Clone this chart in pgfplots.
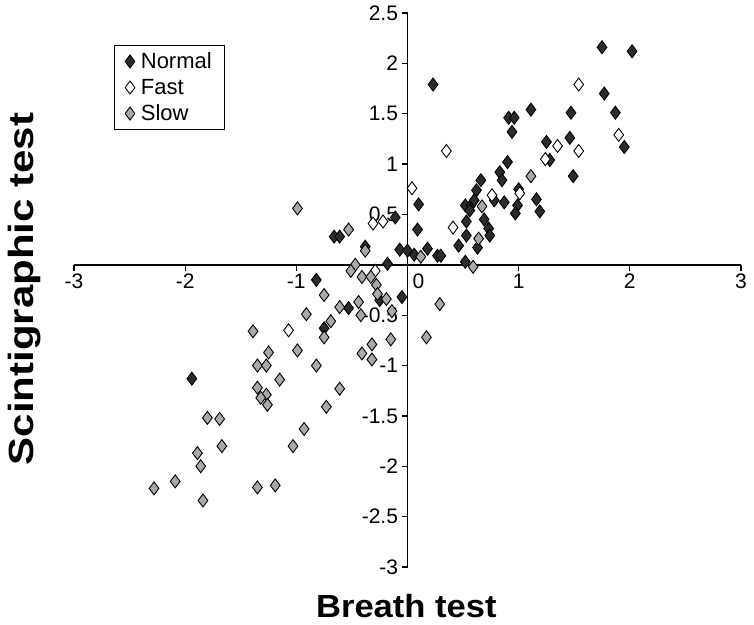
\documentclass[border=0pt]{standalone}
\usepackage{pgfplots}
\pgfplotsset{compat=1.18}
\usepackage{fontspec}
\setmainfont{Liberation Sans}
\usepackage{graphicx}
\definecolor{darkfill}{HTML}{2B2B2B}
\definecolor{grayfill}{HTML}{A9A9A9}
\begin{document}
\begin{tikzpicture}
\begin{axis}[
  width=667bp, height=554bp, scale only axis,
  xmin=-3, xmax=3, ymin=-3, ymax=2.5,
  axis lines*=middle,
  axis line style={line width=1.7bp, -},
  xtick={-3,-2,-1,0,1,2,3},
  xticklabels={-3,-2,-1,\makebox[0pt][l]{\hspace{5bp}0},1,2,3},
  hide obscured x ticks=false,
  ytick={-3,-2.5,-2,-1.5,-1,-0.5,0.5,1,1.5,2,2.5},
  yticklabels={-3,-2.5,-2,-1.5,-1,-0.5,0.5,1,1.5,2,2.5},
  tick align=outside,
  major tick length=6bp,
  tick style={line width=1.2bp, black},
  tick label style={font=\fontsize{21bp}{25bp}\selectfont},
  clip=false,
  legend style={at={(axis cs:-2.644,2.18)}, anchor=north west, draw=black, line width=1.1bp,
    font=\fontsize{22bp}{26bp}\selectfont, inner xsep=11bp, inner ysep=5bp, row sep=5bp, column sep=4bp},
  legend cell align=left,
  mark size=6.5bp,
]
\addplot[only marks, mark=diamond*, mark options={draw=black, fill=darkfill, line width=0.9bp}] coordinates {
(0.23,1.79) (0.10,0.60) (0.09,0.35) (-0.11,0.47) (-0.66,0.28) (-0.61,0.28)
(-0.38,0.18) (-0.07,0.15) (0.00,0.14) (0.06,0.10) (0.18,0.16) (0.27,0.09)
(0.30,0.09) (-0.18,0.01) (-0.82,-0.15) (-0.05,-0.32) (-0.25,-0.35) (-0.53,-0.43)
(-0.75,-0.63) (-1.94,-1.13) (1.75,2.16) (2.02,2.12) (1.77,1.70) (1.11,1.54)
(1.47,1.51) (1.87,1.51) (0.91,1.46) (0.96,1.46) (0.94,1.32) (1.46,1.26)
(1.25,1.22) (1.95,1.17) (1.28,1.04) (0.90,1.02) (0.83,0.92) (1.49,0.88)
(0.85,0.84) (0.66,0.84) (0.62,0.74) (1.00,0.75) (0.52,0.59) (0.57,0.59)
(0.60,0.64) (0.56,0.54) (0.78,0.64) (0.87,0.62) (0.99,0.59) (0.97,0.51)
(1.16,0.65) (1.19,0.53) (0.53,0.43) (0.69,0.45) (0.73,0.36) (0.74,0.29)
(0.53,0.29) (0.46,0.19) (0.63,0.17) (0.52,0.03)
};
\addlegendentry{Normal}
\addplot[only marks, mark=diamond*, mark options={draw=black, fill=white, line width=0.9bp}] coordinates {
(0.04,0.76) (-0.31,0.41) (-0.22,0.43) (-0.29,-0.06) (-1.07,-0.65) (1.54,1.79)
(0.35,1.13) (1.90,1.29) (1.35,1.18) (1.54,1.13) (1.24,1.05) (0.76,0.69)
(1.01,0.71) (0.41,0.37)
};
\addlegendentry{Fast}
\addplot[only marks, mark=diamond*, mark options={draw=black, fill=grayfill, line width=0.9bp}] coordinates {
(-0.99,0.56) (-0.53,0.35) (-0.38,0.14) (0.12,0.08) (-0.47,0.00) (-0.51,-0.06)
(-0.41,-0.12) (-0.33,-0.12) (-0.28,-0.20) (0.17,-0.72) (0.29,-0.39) (-0.75,-0.30)
(-0.44,-0.37) (-0.19,-0.34) (-0.27,-0.29) (-0.61,-0.42) (-0.42,-0.50) (-0.14,-0.46)
(-0.91,-0.49) (-0.69,-0.56) (-0.75,-0.72) (-1.39,-0.66) (-0.99,-0.85) (-1.25,-0.87)
(-0.15,-0.74) (-0.32,-0.79) (-0.41,-0.88) (-0.32,-0.94) (-1.35,-1.00) (-1.27,-1.00)
(-0.82,-1.00) (-1.15,-1.14) (-1.35,-1.22) (-1.27,-1.29) (-1.32,-1.32) (-1.26,-1.39)
(-0.61,-1.23) (-0.73,-1.41) (-1.80,-1.52) (-1.69,-1.53) (-0.93,-1.63) (-1.67,-1.80)
(-1.03,-1.80) (-1.89,-1.87) (-1.86,-2.00) (-2.09,-2.15) (-2.28,-2.22) (-1.84,-2.34)
(-1.35,-2.21) (-1.19,-2.19) (1.11,0.88) (0.67,0.58) (0.64,0.26) (0.59,-0.02)
};
\addlegendentry{Slow}
\coordinate (bl) at (axis cs:-3,-3);
\coordinate (tr) at (axis cs:3,2.5);
\node[anchor=center, font=\fontsize{32bp}{38bp}\selectfont\bfseries] at (axis cs:-0.01,-3.39) {\scalebox{1.08}[1]{Breath test}};
\node[anchor=center, rotate=90, font=\fontsize{35bp}{42bp}\selectfont\bfseries] at (axis cs:-3.444,-0.239) {\scalebox{1.2}[1]{Scintigraphic test}};
\end{axis}
\pgfresetboundingbox
\path[use as bounding box] ([shift={(-74bp,-58bp)}]bl) rectangle ([shift={(13bp,13bp)}]tr);
\end{tikzpicture}
\end{document}
